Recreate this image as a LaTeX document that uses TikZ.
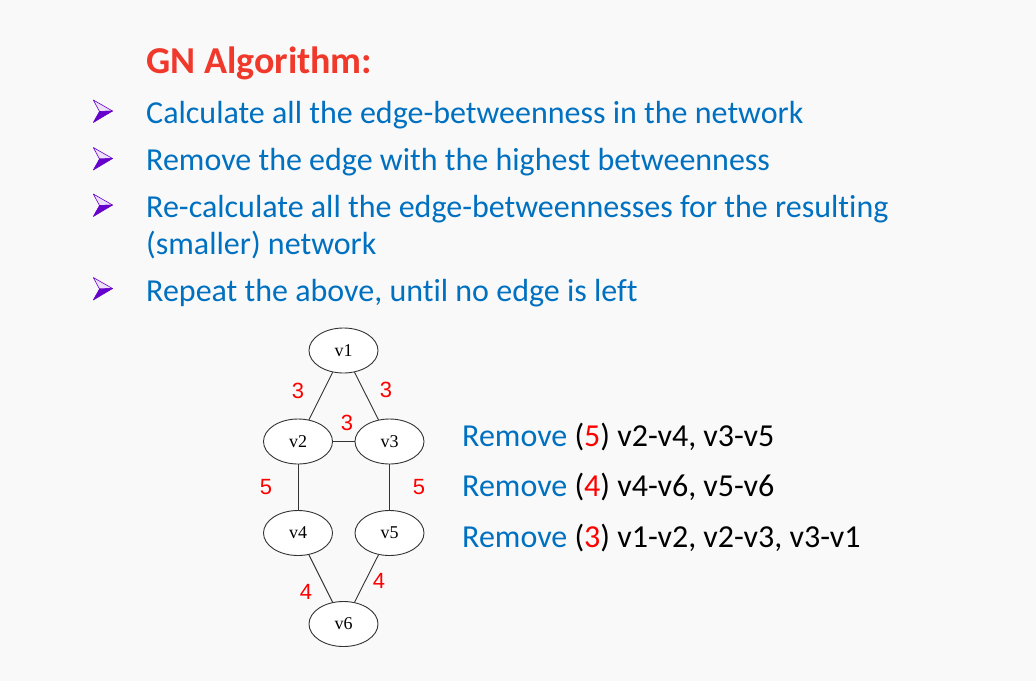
\documentclass[tikz,border=0pt]{standalone}
\usepackage{fontspec}
\setmainfont{Carlito}[Ligatures=NoCommon]
\newfontfamily\gvserif{Liberation Serif}
\newfontfamily\gvsans{Liberation Sans}
\usetikzlibrary{positioning,shapes.geometric}
\definecolor{slidebg}{HTML}{F9F9F9}
\definecolor{titlered}{HTML}{F0382B}
\definecolor{officeblue}{HTML}{0070C0}
\definecolor{bulletpurple}{HTML}{6600CC}
\definecolor{edgegray}{HTML}{333333}
\newcommand{\rmstep}[2]{{\color{officeblue}Remove} ({\color{red}#1}) #2}

\tikzset{
  gnarrow/.pic={
    \filldraw[fill=bulletpurple!12, draw=bulletpurple, line width=0.6pt, line join=round]
      (-9.7,-11) -- (9.5,0) -- (-3.5,0.5) -- cycle;
    \filldraw[fill=bulletpurple, draw=bulletpurple, line width=0.6pt, line join=round]
      (-3.5,0.5) -- (9.5,0) -- (-9.7,11.5) -- cycle;
  }
}

\begin{document}
\begin{tikzpicture}[
  x=1pt, y=-1pt,
  heading/.style={anchor=base west, inner sep=0pt, font=\fontsize{38}{38}\selectfont\bfseries, text=titlered},
  bullettext/.style={anchor=base west, inner sep=0pt, font=\fontsize{32}{37}\selectfont, text=officeblue},
  steptext/.style={anchor=base west, inner sep=0pt, font=\fontsize{32}{37}\selectfont, text=black},
  vertex/.style={ellipse, draw=edgegray, line width=0.9pt, fill=white,
    minimum width=69pt, minimum height=45pt, inner sep=0pt, font=\fontsize{18}{18}\gvserif},
  link/.style={draw=edgegray, line width=0.9pt},
  weight/.style={font=\fontsize{22}{22}\gvsans, text=red, inner sep=0pt}
]
  % slide background
  \useasboundingbox[fill=slidebg] (0,0) rectangle (1036,681);

  % Title
  \node[heading] (title) at (146,73) {GN Algorithm:};

  % Bullet list
  \pic at (103,111) {gnarrow};
  \node[bullettext] (b1) at (146,123) {Calculate all the edge-betweenness in the network};
  \pic at (103,158.5) {gnarrow};
  \node[bullettext] (b2) at (146,170) {Remove the edge with the highest betweenness};
  \pic at (103,205) {gnarrow};
  \node[bullettext] (b3) at (146,217) {Re-calculate all the edge-betweennesses for the resulting};
  \node[bullettext] (b3x) at (146,254) {(smaller) network};
  \pic at (103,288.5) {gnarrow};
  \node[bullettext] (b4) at (146,301) {Repeat the above, until no edge is left};

  % --- Graph ---
  \node[vertex] (v1) at (343.5,350.5) {v1};
  \node[vertex] (v2) at (298,441.5) {v2};
  \node[vertex] (v3) at (389.5,441.5) {v3};
  \node[vertex] (v4) at (298,533) {v4};
  \node[vertex] (v5) at (389.5,533) {v5};
  \node[vertex] (v6) at (343.5,624) {v6};

  \draw[link] (v1) -- (v2);
  \draw[link] (v1) -- (v3);
  \draw[link] (v2) -- (v3);
  \draw[link] (v2) -- (v4);
  \draw[link] (v3) -- (v5);
  \draw[link] (v4) -- (v6);
  \draw[link] (v5) -- (v6);

  % edge betweenness values
  \node[weight] (w12) at (298,391) {3};
  \node[weight] (w13) at (386,390) {3};
  \node[weight] (w23) at (347,423) {3};
  \node[weight] (w24) at (266,487) {5};
  \node[weight] (w35) at (419,487) {5};
  \node[weight] (w46) at (306,592) {4};
  \node[weight] (w56) at (379,581) {4};

  % Removal steps
  \node[steptext] (r1) at (462,446) {\rmstep{5}{v2-v4, v3-v5}};
  \node[steptext] (r2) at (462,496.5) {\rmstep{4}{v4-v6, v5-v6}};
  \node[steptext] (r3) at (462,547) {\rmstep{3}{v1-v2, v2-v3, v3-v1}};
\end{tikzpicture}
\end{document}
